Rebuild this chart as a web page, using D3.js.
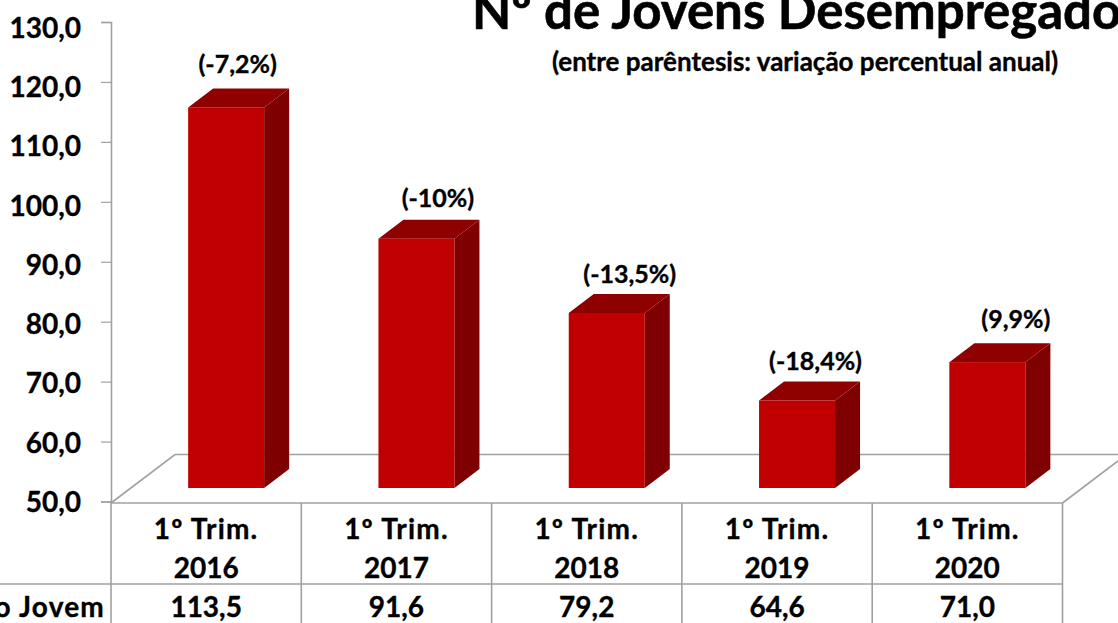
<!DOCTYPE html>
<html><head><meta charset="utf-8">
<script src="https://cdnjs.cloudflare.com/ajax/libs/d3/7.8.5/d3.min.js"></script>
<style>html,body{margin:0;padding:0;background:#fff;overflow:hidden}svg{display:block}text{font-family:Lato,Carlito,"Open Sans",sans-serif;font-weight:700;fill:#000;stroke:#000;stroke-width:.35px}</style>
</head><body><svg id="c" width="1118" height="623"></svg>
<script>
const categoriesTop = ["1º Trim.","1º Trim.","1º Trim.","1º Trim.","1º Trim."];
const categoriesYear = ["2016","2017","2018","2019","2020"];
const values = [113.5,91.6,79.2,64.6,71.0];
const valueLabels = ["113,5","91,6","79,2","64,6","71,0"];
const changes = ["(-7,2%)","(-10%)","(-13,5%)","(-18,4%)","(9,9%)"];
const tickValues = [50,60,70,80,90,100,110,120,130];
const rowLabel = "Desemprego Jovem";
const titleText = "Nº de Jovens Desempregados";
const subtitleText = "(entre parêntesis: variação percentual anual)";

const svg = d3.select("#c");
const grey = "#a0a0a0";
const left = 111, right = 1062.5;
const x = d3.scaleBand().domain(categoriesYear).range([left,right]);
const y = d3.scaleLinear().domain([50,130]).range([501.5,22]);
const dx = 25, dy = 19, barW = 76, lift = 13.5, shift = 20;

// floor
const floor = svg.append("g").attr("fill","none").attr("stroke",grey).attr("stroke-width",1.6);
floor.append("path").attr("d",`M${left},503 L175,454.5 L1118,454.5`);
floor.append("path").attr("d",`M${right},503 L1118,461`);

// bars
const bars = svg.append("g").selectAll("g").data(values).join("g");
const bx = (d,i)=> x(categoriesYear[i]) + x.bandwidth()/2 + shift - barW/2;
const by = d => y(d) - lift;
const bb = y(50) - lift;
bars.append("path").attr("fill","#7f0000")
  .attr("d",(d,i)=>{const a=bx(d,i)+barW;return `M${a},${by(d)} L${a+dx},${by(d)-dy} L${a+dx},${bb-dy} L${a},${bb} Z`;});
bars.append("path").attr("fill","#8f0000")
  .attr("d",(d,i)=>{const a=bx(d,i);return `M${a},${by(d)} L${a+dx},${by(d)-dy} L${a+barW+dx},${by(d)-dy} L${a+barW},${by(d)} Z`;});
bars.append("rect").attr("fill","#c00000")
  .attr("x",(d,i)=>bx(d,i)).attr("y",by).attr("width",barW).attr("height",d=>bb-by(d));

// value axis
const labelDrift = d3.scaleLinear().domain([50,130]).range([0,5]);
const axis = d3.axisLeft(y).tickValues(tickValues).tickSize(10).tickPadding(20)
  .tickFormat(d=>d3.format(".1f")(d).replace(".",","));
const ag = svg.append("g").attr("transform",`translate(${left},0)`).call(axis);
ag.select(".domain").attr("stroke",grey).attr("stroke-width",1.6);
ag.selectAll(".tick line").attr("stroke",grey).attr("stroke-width",1.2);
ag.selectAll(".tick text").style("font-size","28px").attr("dy","0.36em").attr("y",d=>labelDrift(d));

// table
const table = svg.append("g").attr("stroke",grey).attr("stroke-width",1.6);
table.append("line").attr("x1",left).attr("x2",right).attr("y1",503).attr("y2",503);
table.append("line").attr("x1",0).attr("x2",right).attr("y1",584).attr("y2",584);
table.append("line").attr("x1",left).attr("x2",left).attr("y1",501).attr("y2",623);
table.selectAll(".v").data(categoriesYear).join("line").attr("class","v")
  .attr("x1",d=>x(d)+x.bandwidth()).attr("x2",d=>x(d)+x.bandwidth()).attr("y1",503).attr("y2",623);

const cx = i => x(categoriesYear[i]) + x.bandwidth()/2;
const centered = (arr,yp,size)=>svg.append("g").selectAll("text").data(arr).join("text")
  .attr("x",(d,i)=>cx(i)).attr("y",yp).attr("text-anchor","middle").style("font-size",size+"px").text(d=>d);
centered(categoriesTop,539,28).style("letter-spacing","1.2px");
centered(categoriesYear,578,28);
centered(valueLabels,617,28);
svg.append("text").attr("x",105).attr("y",617).attr("text-anchor","end").style("font-size","28px").style("letter-spacing","1.2px").text(rowLabel);

// change labels: placed by hand in the reference, so each has its own nudge
const nudgeX = [-1,9,10.5,6,16], nudgeY = [-2,0,2,2,-2];
svg.append("g").selectAll("text").data(changes).join("text")
  .attr("x",(d,i)=>bx(values[i],i)+barW/2+dx/2+nudgeX[i])
  .attr("y",(d,i)=>by(values[i])-dy-13+nudgeY[i])
  .attr("text-anchor","middle").style("font-size","25px").text(d=>d);

// titles
svg.append("text").attr("x",472).attr("y",29).style("font-size","51px").style("stroke-width",".6px").text(titleText);
svg.append("text").attr("x",805).attr("y",71).attr("text-anchor","middle").style("font-size","26px").text(subtitleText);
</script></body></html>
